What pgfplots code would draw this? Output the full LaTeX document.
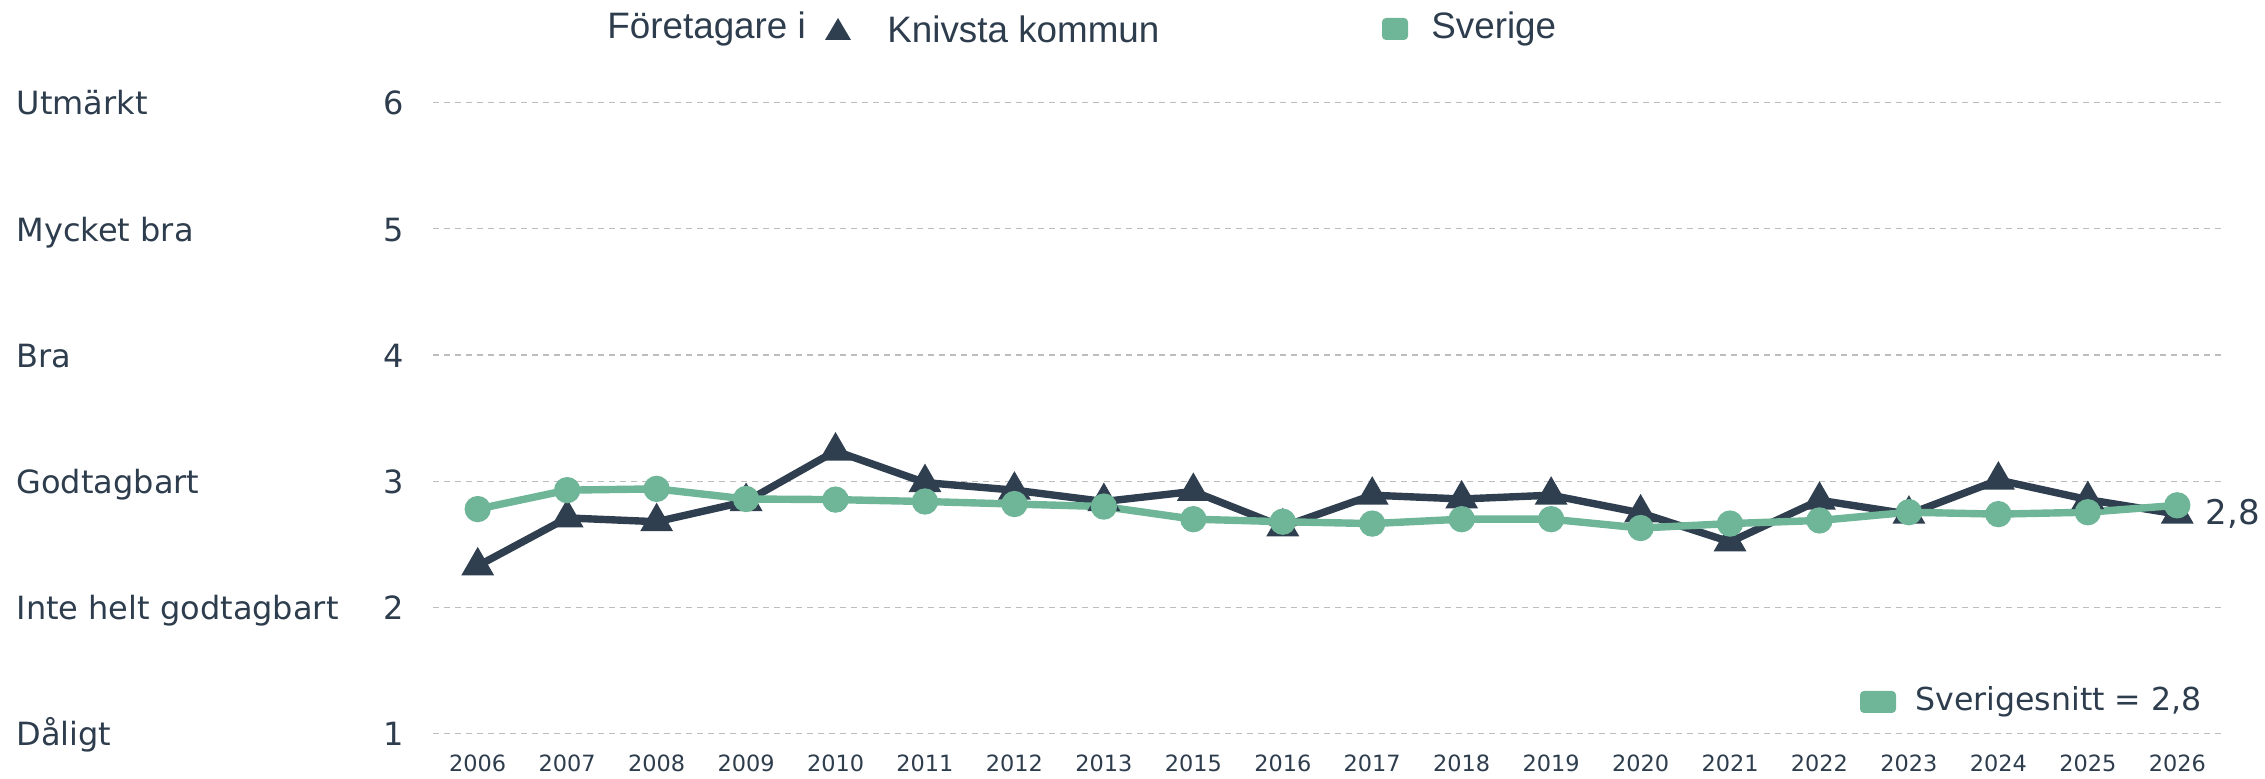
\documentclass[border=0pt]{standalone}
\usepackage{pgfplots}
\pgfplotsset{compat=1.18}
\usepackage{fontspec}
\setmainfont{DejaVu Sans}
\newfontfamily\legfont{Liberation Sans}
\definecolor{dark}{HTML}{303F4F}
\definecolor{green}{HTML}{6FB598}
\definecolor{txt}{HTML}{2E3D4D}
\definecolor{grid}{HTML}{BDBDBD}
\newcommand{\yl}[2]{\makebox[193.5pt][l]{#1\hfill #2}}
\begin{document}
\begin{tikzpicture}
\useasboundingbox (0,0) rectangle (1132.5pt,389.5pt);
\begin{axis}[
  at={(216.5pt,22.6pt)}, anchor=south west,
  scale only axis, width=894.5pt, height=315.6pt,
  xmin=-0.5, xmax=19.5, ymin=1, ymax=6,
  clip=false,
  axis line style={draw=none},
  tick style={draw=none},
  major tick length=0pt,
  xmajorgrids=false, xminorgrids=false,
  ymajorgrids=true,
  xtick={0,...,19},
  xticklabels={2006,2007,2008,2009,2010,2011,2012,2013,2015,2016,2017,2018,2019,2020,2021,2022,2023,2024,2025,2026},
  xticklabel style={font=\fontsize{11.2pt}{13pt}\selectfont, text=txt, anchor=center, inner sep=0pt, yshift=-14.6pt},
  ytick={1,2,3,4,5,6},
  yticklabels={\yl{Dåligt}{1},\yl{Inte helt godtagbart}{2},\yl{Godtagbart}{3},\yl{Bra}{4},\yl{Mycket bra}{5},\yl{Utmärkt}{6}},
  yticklabel style={font=\fontsize{16pt}{19pt}\selectfont, text=txt, anchor=base east, inner sep=0pt, xshift=-14.5pt, yshift=-0.36em-2.5pt},
  y grid style={grid, line width=0.65pt, dash pattern=on 3pt off 2.5pt},
]
\addplot[dark, line width=3.7pt, mark=triangle*, mark size=5.8pt, mark options={solid}] coordinates {
(0,2.33) (1,2.71) (2,2.68) (3,2.84) (4,3.24) (5,2.99) (6,2.93) (7,2.84) (8,2.92) (9,2.64)
(10,2.89) (11,2.86) (12,2.89) (13,2.75) (14,2.52) (15,2.85) (16,2.74) (17,3.01) (18,2.855) (19,2.74)
};
\addplot[green, line width=3.7pt, mark=*, mark size=4.7pt, mark options={solid}] coordinates {
(0,2.78) (1,2.93) (2,2.94) (3,2.86) (4,2.855) (5,2.84) (6,2.82) (7,2.80) (8,2.70) (9,2.68)
(10,2.665) (11,2.70) (12,2.70) (13,2.63) (14,2.665) (15,2.69) (16,2.755) (17,2.74) (18,2.755) (19,2.81)
};
\node[anchor=west, text=txt, inner sep=0pt, font=\fontsize{17pt}{20pt}\selectfont] at (axis cs:19,2.74) [xshift=14pt] {2,8};
\end{axis}
% top legend
\node[anchor=west, inner sep=0pt, text=txt, font=\legfont\fontsize{18.4pt}{22pt}\selectfont] at (303.5pt,375pt) {Företagare i};
\fill[dark] (412.5pt,369.5pt) -- (425.5pt,369.5pt) -- (419pt,380.5pt) -- cycle;
\node[anchor=west, inner sep=0pt, text=txt, font=\legfont\fontsize{18.4pt}{22pt}\selectfont] at (443.5pt,375pt) {Knivsta kommun};
\fill[green, rounded corners=2pt] (691pt,369.5pt) rectangle (704pt,380.5pt);
\node[anchor=west, inner sep=0pt, text=txt, font=\legfont\fontsize{18.4pt}{22pt}\selectfont] at (715.5pt,375pt) {Sverige};
% bottom legend
\fill[green, rounded corners=2pt] (930pt,33pt) rectangle (948pt,44pt);
\node[anchor=west, inner sep=0pt, text=txt, font=\fontsize{15.8pt}{19pt}\selectfont] at (957.5pt,38.5pt) {Sverigesnitt = 2,8};
\end{tikzpicture}
\end{document}
